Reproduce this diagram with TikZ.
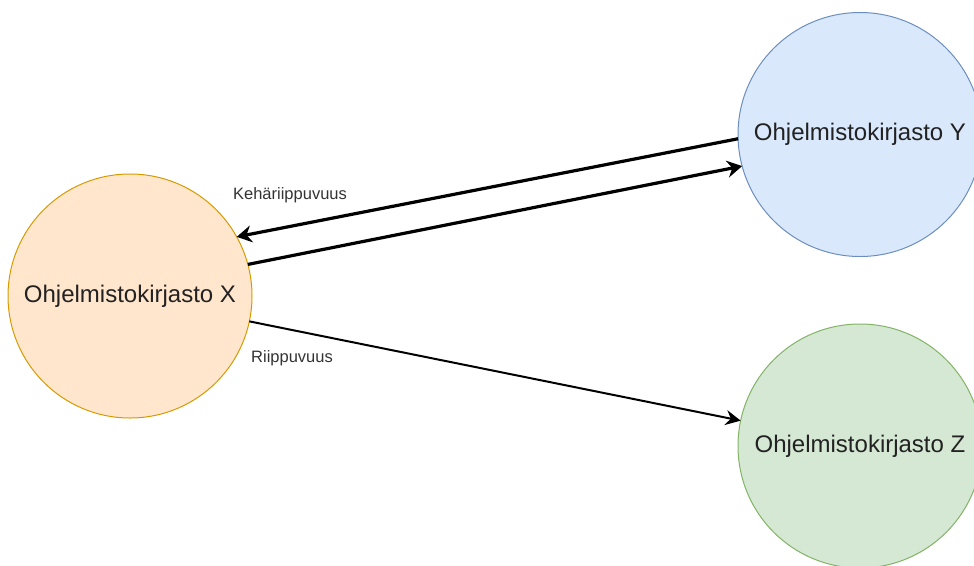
\documentclass[tikz,border=0pt]{standalone}
\usepackage{fontspec}
\setmainfont{Liberation Sans}
\usetikzlibrary{arrows.meta}
\definecolor{xfill}{HTML}{FFE6CC}\definecolor{xdraw}{HTML}{D79B00}
\definecolor{yfill}{HTML}{DAE8FC}\definecolor{ydraw}{HTML}{6C8EBF}
\definecolor{zfill}{HTML}{D5E8D4}\definecolor{zdraw}{HTML}{82B366}
\definecolor{txt}{HTML}{222222}\definecolor{lbl}{HTML}{333333}
\tikzset{
  lib/.style={circle,minimum size=244pt,inner sep=0pt,outer sep=0pt,line width=1pt,
    text=txt,font=\fontsize{24}{28}\selectfont},
  lbltext/.style={text=lbl,font=\fontsize{16.5}{20}\selectfont,inner sep=0pt},
  thickarrow/.style={line width=3.2pt,-{Stealth[length=15pt,width=17pt,inset=5pt]}},
  thinarrow/.style={line width=2pt,-{Stealth[length=15pt,width=15pt,inset=5pt]}}
}
\begin{document}
\begin{tikzpicture}[x=1pt,y=-1pt]
\useasboundingbox (0,0) rectangle (974,565);
\clip (0,0) rectangle (974,565);
\node[lib,fill=xfill,draw=xdraw] (X) at (130,296) {Ohjelmistokirjasto X};
\node[lib,fill=yfill,draw=ydraw] (Y) at (860,134.5) {Ohjelmistokirjasto Y};
\node[lib,fill=zfill,draw=zdraw] (Z) at (860,446) {Ohjelmistokirjasto Z};
\draw[thickarrow] (Y.182) -- (X.29.5);
\draw[thickarrow] (X.15) -- (Y.195);
\draw[thinarrow] (X.-12) -- (Z.168);
\node[lbltext] (kl) at (290,195) {Kehäriippuvuus};
\node[lbltext] (rl) at (292,358) {Riippuvuus};
\end{tikzpicture}
\end{document}
